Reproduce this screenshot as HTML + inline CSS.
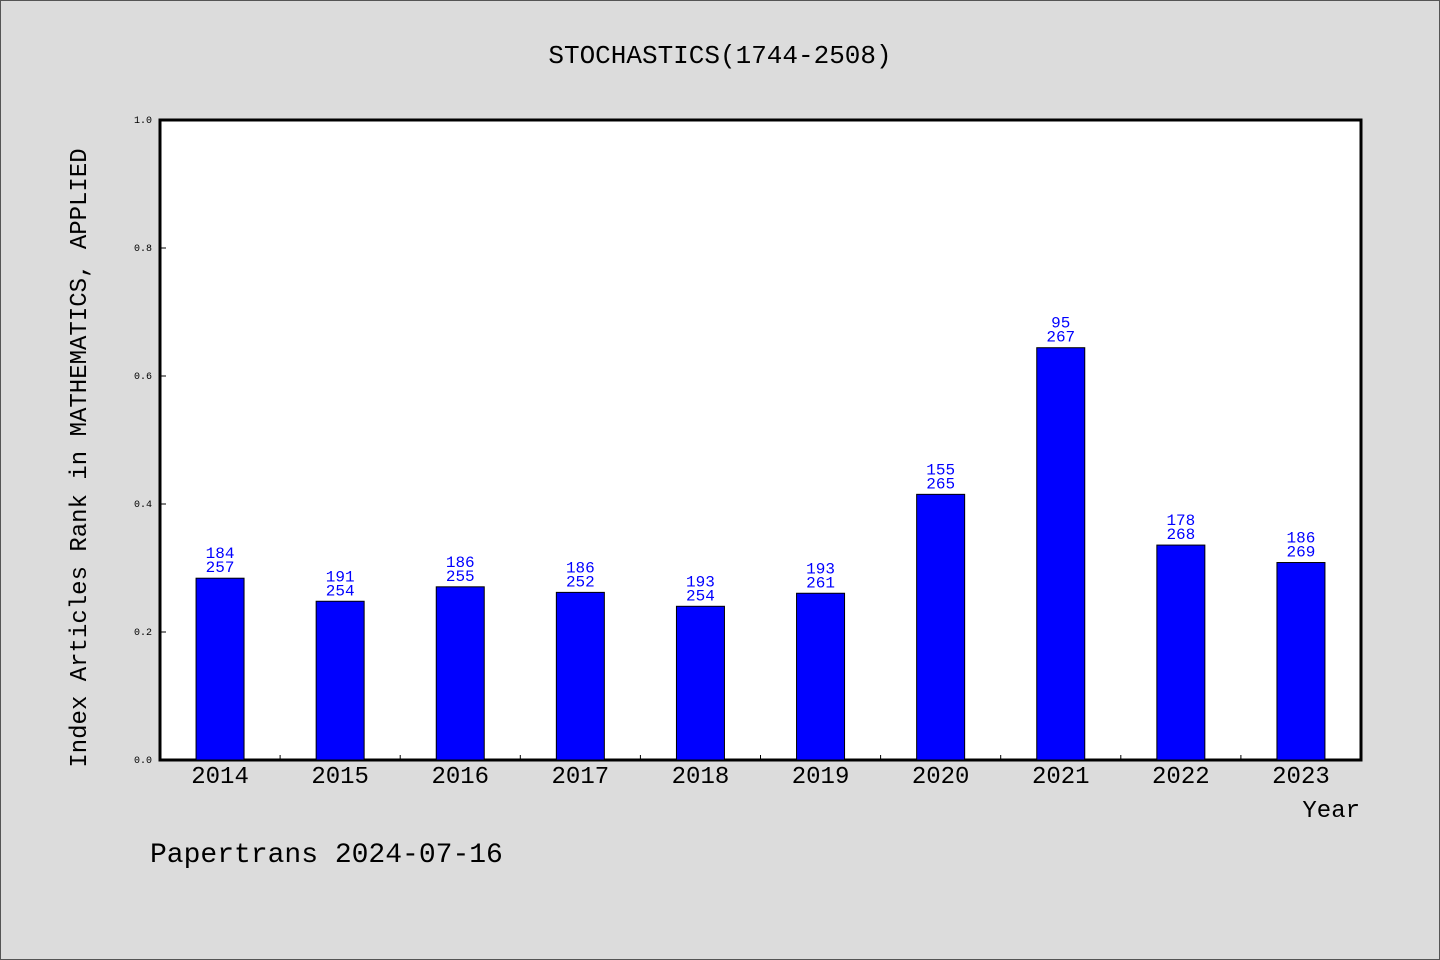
<!DOCTYPE html>
<html><head><meta charset="utf-8"><style>
body{margin:0;background:#dcdcdc;}
svg{display:block;font-family:"WenQuanYi Zen Hei","Liberation Mono",monospace;}
</style></head><body>
<svg width="1440" height="960" xmlns="http://www.w3.org/2000/svg">
<rect x="0.5" y="0.5" width="1439" height="959" fill="#dcdcdc" stroke="#555"/>
<text x="720" y="63" text-anchor="middle" font-size="26">STOCHASTICS(1744-2508)</text>
<rect x="160" y="120" width="1201" height="640" fill="#fff" stroke="#000" stroke-width="3"/>
<g id="yaxis"></g><g id="bars"></g><g id="xaxis"></g>
<text transform="translate(86,458) rotate(-90)" text-anchor="middle" font-size="24">Index Articles Rank in MATHEMATICS, APPLIED</text>
<text x="1360" y="817" text-anchor="end" font-size="24">Year</text>
<text x="150" y="862" font-size="28">Papertrans 2024-07-16</text>
</svg>
<script>
const years=["2014","2015","2016","2017","2018","2019","2020","2021","2022","2023"];
const ranks=[184,191,186,186,193,193,155,95,178,186];
const totals=[257,254,255,252,254,261,265,267,268,269];
const yTicks=[0,0.2,0.4,0.6,0.8,1.0];
const NS="http://www.w3.org/2000/svg";
const x0=160,x1=1361,y0=760,y1=120;
const band=(x1-x0)/years.length;
const xc=i=>x0+band*(i+0.5);
const ys=v=>y0-(y0-y1)*v;
function mk(t,a,p){const e=document.createElementNS(NS,t);for(const k in a)e.setAttribute(k,a[k]);p.appendChild(e);return e;}
const ya=document.getElementById('yaxis');
yTicks.forEach(v=>{
 const l=mk('line',{x1:x0,x2:x0+6,y1:ys(v),y2:ys(v),stroke:'#000'},ya);
 
 
 const t=mk('text',{x:x0-8,y:ys(v)+3,'text-anchor':'end','font-size':10},ya);
 t.textContent=v.toFixed(1);
 
 
});
const bg=document.getElementById('bars');
years.forEach((y,i)=>{
 const v=(totals[i]-ranks[i])/totals[i];
 const r=mk('rect',{x:xc(i)-24,y:ys(v),width:48,height:y0-ys(v),fill:'#0000ff',stroke:'#000'},bg);
 
 
 const t1=mk('text',{x:xc(i),y:ys(v)-20,'text-anchor':'middle','font-size':16,fill:'#0000ff'},bg);
 t1.textContent=ranks[i];
 
 
 const t2=mk('text',{x:xc(i),y:ys(v)-6,'text-anchor':'middle','font-size':16,fill:'#0000ff'},bg);
 t2.textContent=totals[i];
 
 
});
const xa=document.getElementById('xaxis');
years.forEach((y,i)=>{
 if(i>0){const l=mk('line',{x1:x0+band*i,x2:x0+band*i,y1:y0,y2:y0-5,stroke:'#000'},xa);
 
 }
 const t=mk('text',{x:xc(i),y:783,'text-anchor':'middle','font-size':24},xa);
 t.textContent=y;
 
 
});
</script>
</body></html>
